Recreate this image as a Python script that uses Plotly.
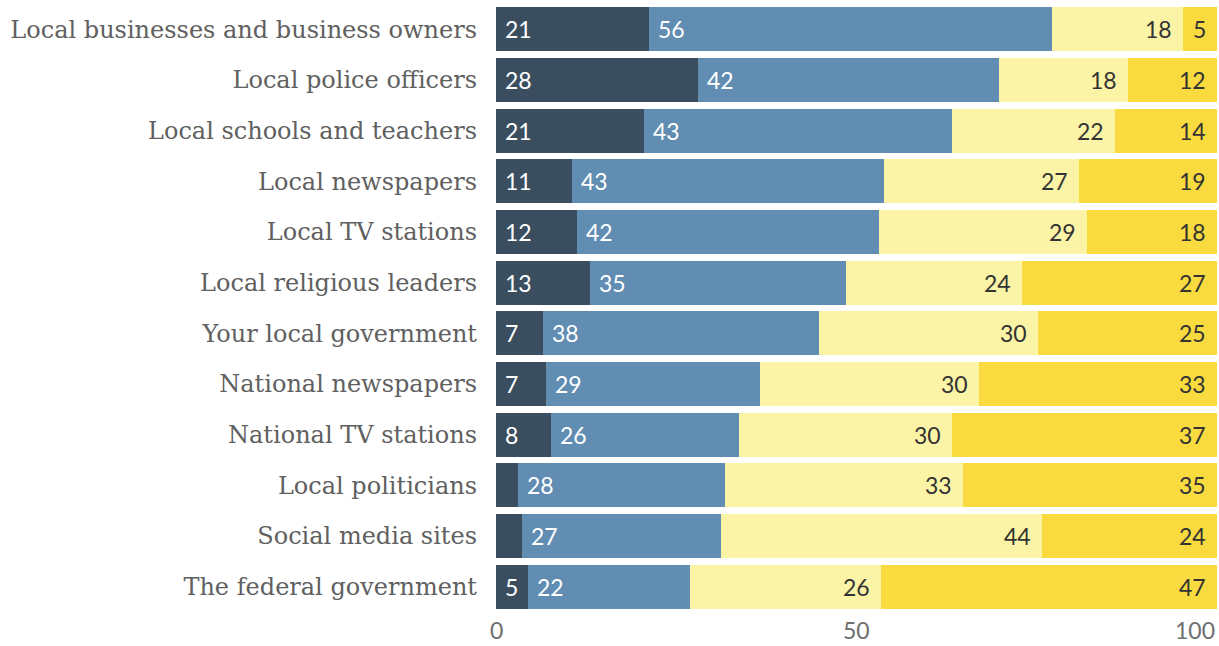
import plotly.graph_objects as go

categories = [
    "Local businesses and business owners",
    "Local police officers",
    "Local schools and teachers",
    "Local newspapers",
    "Local TV stations",
    "Local religious leaders",
    "Your local government",
    "National newspapers",
    "National TV stations",
    "Local politicians",
    "Social media sites",
    "The federal government",
]

# segment values
seg1 = [21.2, 28.0, 20.5, 10.6, 11.3, 13.0, 6.5, 6.9, 7.6, 3.05, 3.6, 4.5]
seg2 = [55.9, 41.7, 42.8, 43.2, 41.8, 35.5, 38.3, 29.7, 26.1, 28.65, 27.6, 22.4]
seg3 = [18.2, 17.9, 22.6, 27.0, 28.9, 24.5, 30.4, 30.4, 29.6, 33.1, 44.5, 26.5]
seg4 = [4.7, 12.4, 14.1, 19.2, 18.0, 27.0, 24.8, 33.0, 36.7, 35.2, 24.3, 46.6]

# printed labels
lab1 = ["21", "28", "21", "11", "12", "13", "7", "7", "8", "", "", "5"]
lab2 = ["56", "42", "43", "43", "42", "35", "38", "29", "26", "28", "27", "22"]
lab3 = ["18", "18", "22", "27", "29", "24", "30", "30", "30", "33", "44", "26"]
lab4 = ["5", "12", "14", "19", "18", "27", "25", "33", "37", "35", "24", "47"]

x_ticks = [0, 50, 100]

colors = ["#3b4e60", "#618db2", "#fbf4a7", "#f9da3f"]
text_colors = ["#ffffff", "#ffffff", "#333333", "#333333"]
segs = [seg1, seg2, seg3, seg4]
labs = [lab1, lab2, lab3, lab4]

NUM_FONT = "Lato"
CAT_FONT = "DejaVu Serif"
X_MAX = x_ticks[-1]

fig = go.Figure()
for s, c in zip(segs, colors):
    fig.add_trace(go.Bar(
        y=categories, x=s, orientation="h",
        marker=dict(color=c, line=dict(width=0)),
        hoverinfo="skip", showlegend=False,
    ))

annotations = []
for i, cat in enumerate(categories):
    start = 0.0
    for k in range(4):
        v = segs[k][i]
        end = start + v
        t = labs[k][i]
        if t:
            if k < 2:
                annotations.append(dict(
                    x=start, y=cat, xref="x", yref="y", text=t,
                    showarrow=False, xanchor="left", xshift=7,
                    font=dict(family=NUM_FONT, size=23, color=text_colors[k]),
                ))
            else:
                annotations.append(dict(
                    x=min(end, X_MAX), y=cat, xref="x", yref="y", text=t,
                    showarrow=False, xanchor="right", xshift=-9,
                    font=dict(family=NUM_FONT, size=23, color=text_colors[k]),
                ))
        start = end

for j, tv in enumerate(x_ticks):
    anchor = "center"
    if j == len(x_ticks) - 1:
        anchor = "right"
    annotations.append(dict(
        x=tv, y=0, xref="x", yref="paper", text=str(tv),
        showarrow=False, xanchor=anchor, yanchor="bottom", yshift=-34,
        font=dict(family=NUM_FONT, size=23, color="#6e6e6e"),
    ))

fig.update_layout(
    barmode="stack",
    bargap=0.13,
    width=1219, height=646,
    margin=dict(l=496, r=2, t=4, b=34),
    paper_bgcolor="white", plot_bgcolor="white",
    annotations=annotations,
    xaxis=dict(
        range=[0, X_MAX], tickvals=x_ticks, showticklabels=False,
        showgrid=True, gridcolor="rgba(255,255,255,0.6)", gridwidth=1,
        zeroline=False, showline=False, layer="above traces", fixedrange=True,
    ),
    yaxis=dict(
        autorange="reversed", showgrid=False, zeroline=False, showline=False,
        ticks="", ticklabelstandoff=18, fixedrange=True,
        tickfont=dict(family=CAT_FONT, size=24, color="#606060"),
    ),
)

fig.write_html(
    "out.html",
    config={"displayModeBar": False},
    post_script="document.body.style.margin='0';document.body.style.overflow='hidden';",
)
